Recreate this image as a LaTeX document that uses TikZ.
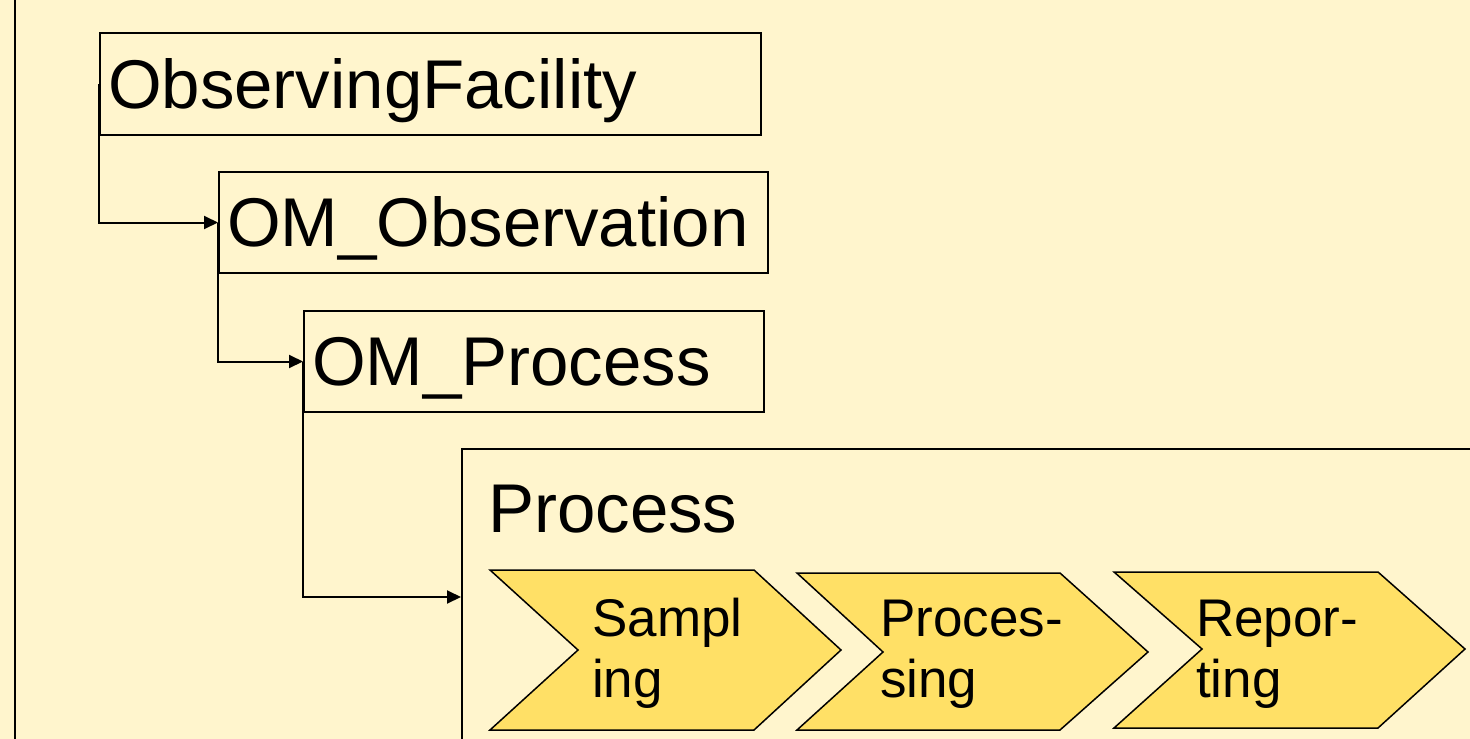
\documentclass[tikz,border=0pt]{standalone}
\usepackage{fontspec}
\setmainfont{Liberation Sans}
\usetikzlibrary{arrows.meta}
\definecolor{bgc}{RGB}{255,245,205}
\definecolor{chev}{RGB}{255,224,102}
\begin{document}
\begin{tikzpicture}[x=1pt,y=-1pt,
  box/.style={draw=black, line width=2pt, anchor=north west, inner xsep=8pt, inner ysep=0pt,
    font=\fontsize{69}{80}\selectfont, text height=48pt, text depth=0pt, align=left},
  conn/.style={draw=black, line width=2pt, -{Triangle[length=14pt,width=13pt]}},
  chevron/.style={draw=black, line width=1.5pt, fill=chev, line join=miter},
  chevtext/.style={anchor=base west, inner sep=0pt, align=left, font=\fontsize{53}{61}\selectfont},
  bigtext/.style={anchor=base west, inner sep=0pt, font=\fontsize{69}{80}\selectfont}
]
\useasboundingbox (0,0) rectangle (1470,739);
\fill[bgc] (0,0) rectangle (1470,739);
\draw[line width=2pt] (15,0) -- (15,739);

\node[box, text width=645pt, minimum height=102pt] (of) at (99,32) {ObservingFacility};
\node[box, text width=533pt, minimum height=101pt] (oo) at (218,171) {OM\_Observation};
\node[box, text width=444pt, minimum height=101pt] (op) at (303,310) {OM\_Process};

\node[draw=black, line width=2pt, anchor=north west, minimum width=1100pt, minimum height=400pt, inner sep=0pt] (proc) at (461,448) {};
\node[bigtext] (ptitle) at (488,532) {Process};
\coordinate (pin) at (461,597);

\draw[conn] (of.west) |- (oo.west);
\draw[conn] (oo.west) |- (op.west);
\draw[conn] (op.west) |- (pin);

\draw[chevron] (490,570) -- (754,570) -- (841,650) -- (754,730) -- (490,730) -- (578,650) -- cycle;
\draw[chevron] (797,573) -- (1060,573) -- (1148,652) -- (1060,730) -- (797,730) -- (883,652) -- cycle;
\draw[chevron] (1114,572) -- (1378,572) -- (1465,649) -- (1378,728) -- (1114,728) -- (1202,649) -- cycle;

\node[chevtext] (t1) at (592,697) {Sampl\\ing};
\node[chevtext] (t2) at (880,697) {Proces-\\sing};
\node[chevtext] (t3) at (1196,697) {Repor-\\ting};
\end{tikzpicture}
\end{document}
